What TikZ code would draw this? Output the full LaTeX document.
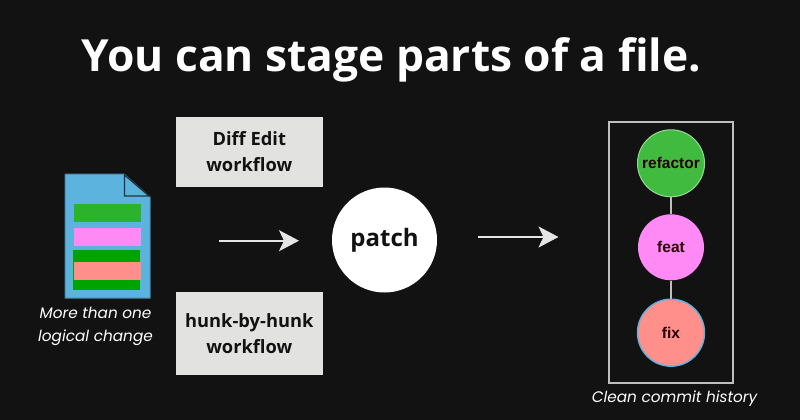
\documentclass[tikz,border=0pt]{standalone}
\usepackage{xcolor}
\usepackage{fontspec}
\usetikzlibrary{arrows.meta}
\setmainfont{Open Sans}
\newfontfamily\capfont{Poppins}
\newfontfamily\commitfont{Liberation Sans}
\definecolor{bgdark}{HTML}{121212}
\definecolor{boxgray}{HTML}{E2E2E0}
\definecolor{docblue}{HTML}{5CB3DE}
\definecolor{barpink}{HTML}{FF8AF5}
\definecolor{barsalmon}{HTML}{FF8F8A}
\definecolor{bargreen}{HTML}{2BB32B}
\definecolor{bardark}{HTML}{00A300}
\tikzset{
  workflow/.style={fill=boxgray, text=bgdark, minimum width=146.7pt, align=center, font=\fontsize{18.3}{26}\selectfont\bfseries},
  commit/.style={circle, inner sep=0pt, text=black!85!red, font=\fontsize{15.5}{18}\commitfont\bfseries},
  flow/.style={draw=white!90!black, line width=2pt, -{Stealth[length=20pt, width=21pt, inset=5pt]}},
  caption/.style={text=white, align=center, font=\fontsize{15.3}{23}\capfont\itshape}
}
\begin{document}
\begin{tikzpicture}[x=1pt, y=-1pt]
        \useasboundingbox (0,0) rectangle (800,420);
        \fill[bgdark] (0,0) rectangle (800,420);
        % Draw the title
        \node[text=white, font=\fontsize{44.3}{50}\selectfont\bfseries] (title) at (391.5,60) {You can stage parts of a file.};
        % Draw the document with its fold
        \draw[fill=docblue, draw=docblue!75!black, line width=1pt] (65,174) -- (124,174) -- (150,197) -- (150,298) -- (65,298) -- cycle;
        \draw[draw=bgdark!80!docblue, line width=1.2pt, fill=docblue] (124.5,175) -- (124.5,196) -- (149,196) -- cycle;
        \fill[bargreen] (74,203.5) rectangle (140.7,222);
        \fill[barpink] (74,227.5) rectangle (140.7,246.3);
        \fill[bardark] (73.3,250.3) rectangle (140,290);
        \fill[barsalmon] (74,262) rectangle (140.7,279.7);
        \node[caption] (filetext) at (95.5,326) {More than one\\logical change};
        % Draw the workflow boxes
        \node[workflow, minimum height=70pt] (diffedit) at (249.3,152) {Diff Edit\\workflow};
        \node[workflow, minimum height=83.3pt] (hunkbyhunk) at (249.3,333.6) {hunk-by-hunk\\workflow};
        % Draw the patch circle
        \node[circle, fill=white, text=bgdark, minimum size=105pt, inner sep=0pt, font=\fontsize{24}{30}\selectfont\bfseries] (patch) at (384.5,240) {\raisebox{-2pt}{patch}};
        % Draw arrows
        \coordinate (inleft) at (219,240.7);
        \coordinate (inright) at (299,240.7);
        \coordinate (outleft) at (478,237);
        \coordinate (outright) at (558.5,237);
        \draw[flow] (inleft) -- (inright);
        \draw[flow] (outleft) -- (outright);
        % Draw the commit history
        \node[draw=white!75!black, line width=2pt, minimum width=123.4pt, minimum height=261.3pt, inner sep=0pt] (history) at (671,252.7) {};
        \node[commit, fill=bargreen!90!white, draw=white!50!bargreen, line width=1pt, minimum size=67pt] (refactor) at (671,163.3) {refactor};
        \node[commit, fill=barpink, minimum size=66pt] (feat) at (671,247.3) {feat};
        \node[commit, fill=barsalmon, draw=docblue, line width=1.4pt, minimum size=67pt] (fix) at (671,332.7) {fix};
        \draw[white!75!black, line width=2pt] (refactor) -- (feat);
        \draw[white!75!black, line width=2pt] (feat) -- (fix);
        \node[caption] (historytext) at (674.5,399) {Clean commit history};
        \end{tikzpicture}
\end{document}
